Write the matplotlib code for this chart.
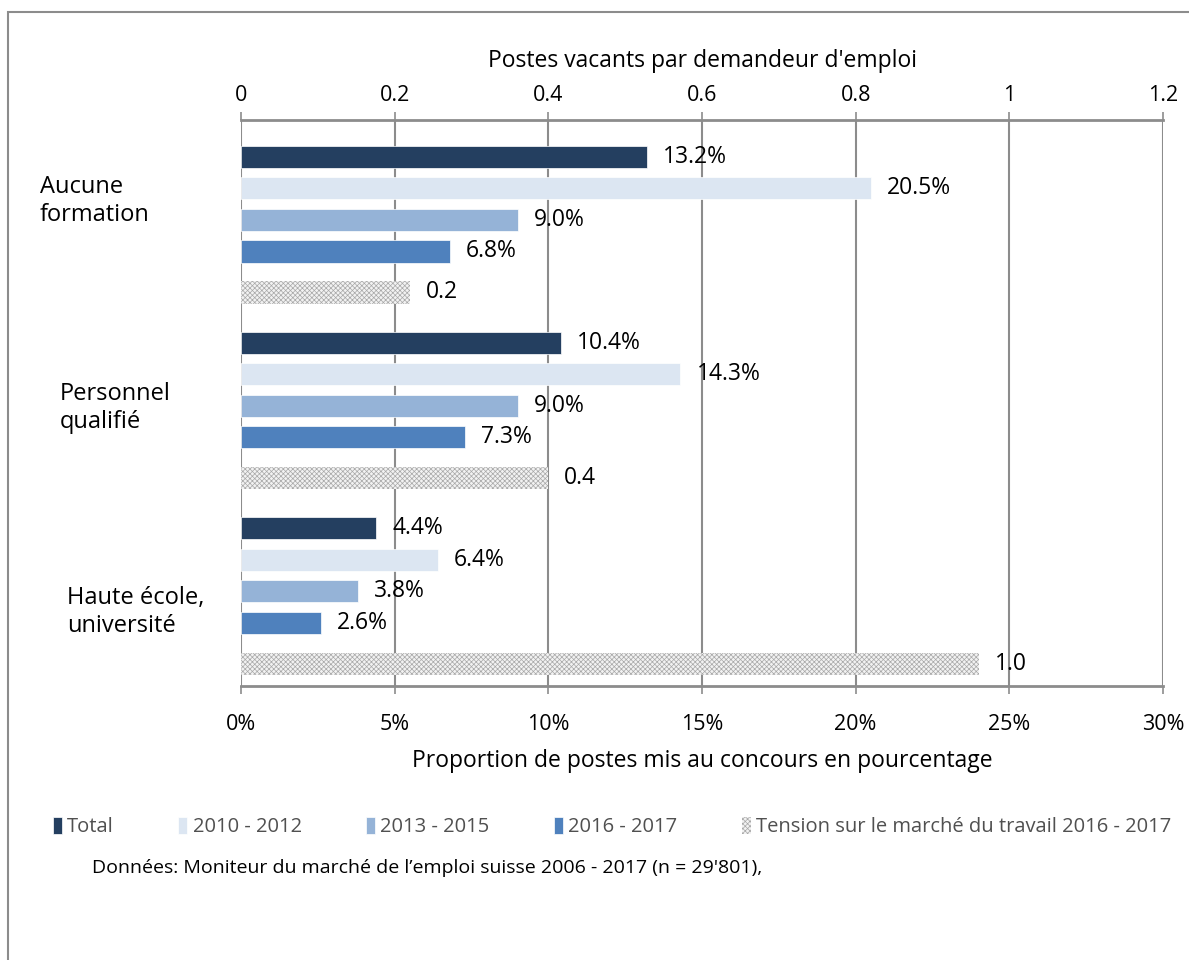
import matplotlib.pyplot as plt
from matplotlib.patches import Rectangle

plt.rcParams['font.family'] = ['Open Sans', 'DejaVu Sans']
plt.rcParams['hatch.color'] = '#a8a8a8'
plt.rcParams['hatch.linewidth'] = 0.5

# données
categories = ['Aucune\nformation', 'Personnel\nqualifié', 'Haute école,\nuniversité']
series = ['Total', '2010 - 2012', '2013 - 2015', '2016 - 2017']
values = [
    [13.2, 10.4, 4.4],   # Total
    [20.5, 14.3, 6.4],   # 2010 - 2012
    [9.0, 9.0, 3.8],     # 2013 - 2015
    [6.8, 7.3, 2.6],     # 2016 - 2017
]
tension_label = 'Tension sur le marché du travail 2016 - 2017'
tension = [0.22, 0.40, 0.96]
pct_ticks = [0, 5, 10, 15, 20, 25, 30]
ratio_ticks = [0, 0.2, 0.4, 0.6, 0.8, 1, 1.2]

colors = ['#243F60', '#DCE6F2', '#95B3D7', '#4F81BD']

fig = plt.figure(figsize=(11.89, 9.6), dpi=100)
ax = fig.add_axes([241 / 1189, 1 - 686 / 960, 922 / 1189, 566 / 960])
ax2 = ax.twiny()

# cadre autour du graphique
fig.patches.append(Rectangle((8 / 1189, -0.1), 1.2, 1 - 12 / 960 + 0.1,
                             transform=fig.transFigure, fill=False,
                             edgecolor='#8c8c8c', linewidth=1.5))

step = 5.89
h = 0.7
handles = []
for g in range(len(categories)):
    base = g * step
    for s in range(len(series)):
        b = ax.barh(base + s, values[s][g], height=h, color=colors[s],
                    edgecolor='white', linewidth=0.5, zorder=3,
                    label=series[s] if g == 0 else None)
        if g == 0:
            handles.append(b)
        ax.annotate(f'{values[s][g]:.1f}%', (values[s][g], base + s),
                    xytext=(11.5, 0), textcoords='offset points',
                    va='center', ha='left', fontsize=16.5, zorder=5)
    t = ax2.barh(base + 4.3, tension[g], height=h, color='#f2f2f2',
                 hatch='xxxxxxx', edgecolor='#a8a8a8', linewidth=0, zorder=3,
                 label=tension_label if g == 0 else None)
    if g == 0:
        handles.append(t)
    ax2.annotate(f'{tension[g]:.1f}', (tension[g], base + 4.3),
                 xytext=(11.5, 0), textcoords='offset points',
                 va='center', ha='left', fontsize=16.5, zorder=5)

ax.set_ylim(2 * step + 4.3 + 0.7, -1.17)
ax2.set_ylim(ax.get_ylim())
ax.set_xlim(0, 30)
ax2.set_xlim(0, 1.2)

ax.set_xticks(pct_ticks)
ax.set_xticklabels([f'{v}%' for v in pct_ticks], fontsize=15.5)
ax2.set_xticks(ratio_ticks)
ax2.set_xticklabels([f'{v:g}' for v in ratio_ticks], fontsize=15.5)
ax.set_yticks([])
ax2.set_yticks([])

for a in (ax, ax2):
    for side in ('left', 'right'):
        a.spines[side].set_visible(False)
ax.tick_params(axis='x', length=6, width=1.2, color='#8c8c8c', pad=14)
ax2.tick_params(axis='x', length=6, width=1.2, color='#8c8c8c', pad=4)
ax.spines['top'].set_visible(False)
ax2.spines['bottom'].set_visible(False)
ax.spines['bottom'].set_color('#8c8c8c')
ax.spines['bottom'].set_linewidth(2)
ax2.spines['top'].set_color('#8c8c8c')
ax2.spines['top'].set_linewidth(2)

ax.grid(axis='x', color='#8c8c8c', linewidth=1.5, zorder=0)
ax.set_axisbelow(True)

ax.set_xlabel('Proportion de postes mis au concours en pourcentage', fontsize=16.5, labelpad=10)
ax2.set_xlabel("Postes vacants par demandeur d'emploi", fontsize=16.5, labelpad=13)

# étiquettes des catégories
label_pos = [(40, 201), (60, 408), (67, 612)]
for cat, (px, py) in zip(categories, label_pos):
    fig.text(px / 1189, 1 - py / 960, cat, ha='left', va='center',
             fontsize=17, linespacing=1.27)

fig.legend(handles=handles, loc='center', bbox_to_anchor=(612 / 1189, 1 - 827 / 960),
           ncol=5, frameon=False, fontsize=14.5, handlelength=0.45, handleheight=0.9,
           handletextpad=0.25, columnspacing=3.2, labelcolor='#505050')

fig.text(92 / 1189, 1 - 868 / 960,
         "Données: Moniteur du marché de l’emploi suisse 2006 - 2017 (n = 29'801),",
         ha='left', va='center', fontsize=14)

fig.savefig('out.png', dpi=100)
